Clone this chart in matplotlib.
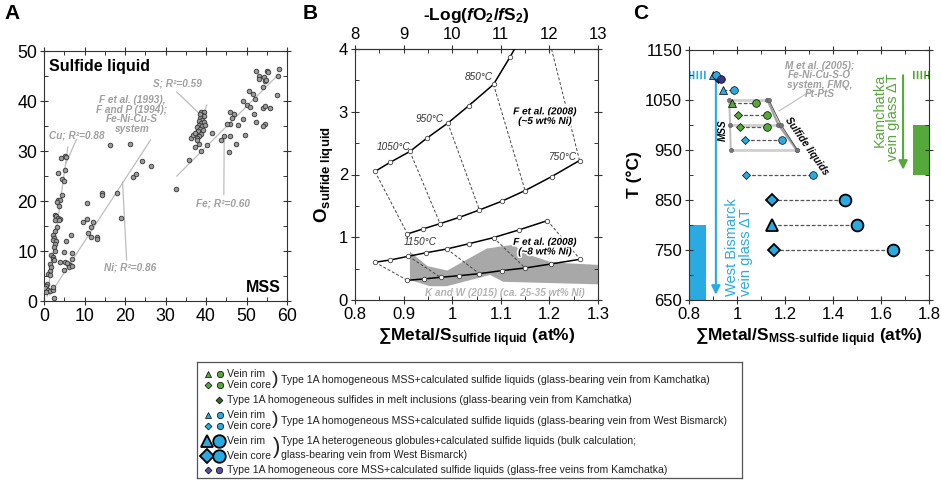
import numpy as np
import matplotlib
matplotlib.use('Agg')
import matplotlib.pyplot as plt
import matplotlib.patheffects as pe

plt.rcParams['font.family'] = ['Liberation Sans', 'DejaVu Sans']
plt.rcParams['mathtext.fontset'] = 'custom'
plt.rcParams['mathtext.rm'] = 'Liberation Sans'
plt.rcParams['mathtext.it'] = 'Liberation Sans:italic'
plt.rcParams['mathtext.bf'] = 'Liberation Sans:bold'
plt.rcParams['mathtext.bfit'] = 'Liberation Sans:bold:italic'

BLUE = '#29ABE2'
GREEN = '#56A83A'
DKGREEN = '#2F6A1E'
PURPLE = '#3B3487'
LTPURPLE = '#5A4FA3'
GRAYTXT = '#9E9E9E'
AXC = '#333333'

# ---------------- panel A : MSS vs sulfide liquid ----------------
cu_x = [4.3, 5.3, 5.4, 5.3, 3.5, 4.4, 5.0, 4.5, 3.5, 3.9, 3.2, 3.7, 2.6, 3.0, 3.5,
        3.9, 2.8, 3.6, 3.1, 2.8, 2.2, 2.4, 2.2, 2.9, 2.6, 2.4, 2.6, 1.8, 2.2, 2.1,
        2.5, 1.4, 1.8, 1.4, 1.0, 1.4, 0.8, 0.6, 0.3, 1.0, 1.6, 2.1, 2.2, 0.6, 2.4]
cu_y = [28.6, 29.0, 28.8, 26.2, 25.6, 24.4, 24.0, 21.3, 20.3, 20.2, 19.9, 19.0, 17.2, 17.0, 16.7,
        16.5, 16.2, 16.2, 14.8, 14.0, 13.2, 12.6, 12.3, 12.0, 11.5, 10.9, 10.1, 9.2, 8.9, 8.5,
        8.3, 7.5, 6.9, 6.1, 5.5, 5.2, 3.5, 3.0, 2.7, 2.3, 2.1, 2.3, 2.9, 1.9, 0.7]
ni_x = [4.9, 4.0, 5.1, 5.5, 6.6, 5.0, 5.9, 6.4, 6.2, 6.8, 5.6, 7.0, 6.8, 9.7, 10.6, 10.5,
        10.9, 11.5, 11.7, 12.0, 13.1, 13.1, 14.2, 14.4, 16.3, 18.1, 19.0, 21.2, 21.9, 22.7,
        24.3, 26.4]
ni_y = [9.9, 7.9, 7.9, 12.0, 13.2, 6.3, 7.5, 7.2, 6.8, 7.0, 7.6, 8.5, 9.7, 15.8, 16.5, 19.7,
        13.7, 14.8, 12.8, 15.8, 12.8, 12.4, 21.6, 21.2, 31.2, 21.6, 16.7, 31.4, 24.8, 25.4,
        28.1, 27.0]
fe_x = [32.6, 35.7, 38.8, 40.3, 41.5, 43.6, 44.5, 45.6, 46.0, 46.0, 46.8, 46.5, 46.0, 45.3,
        47.4, 47.8, 49.1, 49.1, 49.7, 50.1, 50.7, 50.9, 51.5, 51.9, 52.1, 52.3, 52.3, 53.2,
        53.0, 54.0, 54.2, 54.6, 55.0, 54.8, 55.4, 54.0, 54.6, 55.9, 54.5, 54.0, 57.5, 57.7, 58.1]
fe_y = [22.5, 28.2, 30.0, 31.2, 33.7, 32.2, 33.0, 29.8, 33.0, 37.8, 37.5, 36.7, 35.5, 35.4,
        31.4, 35.3, 36.5, 40.1, 33.2, 39.3, 42.1, 38.8, 41.5, 37.4, 40.5, 46.0, 35.8, 45.1,
        44.5, 42.8, 44.8, 44.1, 46.1, 44.3, 45.9, 38.7, 39.0, 38.6, 35.5, 35.1, 41.3, 45.1, 46.5]
s_x = [36.2, 37.2, 36.9, 37.7, 38.2, 38.8, 39.4, 38.9, 39.4, 38.5, 39.1, 38.2, 38.8, 38.3,
       38.9, 37.9, 38.5, 39.2, 38.1, 37.3, 38.7, 38.3, 37.7, 37.9, 39.5, 39.7, 38.4]
s_y = [32.7, 30.8, 33.2, 33.8, 31.5, 37.8, 37.8, 37.2, 37.0, 36.7, 36.3, 36.0, 35.6, 35.2,
       35.0, 34.8, 34.5, 34.2, 34.0, 33.6, 33.5, 33.0, 32.7, 32.2, 35.9, 35.2, 37.4]

cu_fit_x, cu_fit_y = [0.8, 5.9], [1.0, 30.8]
ni_fit_x, ni_fit_y = [1.4, 26.3], [1.2, 32.2]
fe_fit_x, fe_fit_y = [32.8, 57.9], [25.0, 45.3]

# ---------------- panel B : oxygen in sulfide liquid ----------------
f5_hi_x = [0.841, 0.873, 0.913, 0.948, 0.991, 1.034, 1.085, 1.119, 1.15, 1.18]
f5_hi_y = [2.048, 2.197, 2.367, 2.580, 2.819, 3.096, 3.436, 3.872, 4.30, 4.75]
f5_lo_x = [0.908, 0.939, 0.975, 1.015, 1.056, 1.102, 1.150, 1.205, 1.262]
f5_lo_y = [1.053, 1.130, 1.217, 1.318, 1.435, 1.574, 1.744, 1.968, 2.223]
f8_hi_x = [0.841, 0.873, 0.910, 0.947, 0.989, 1.035, 1.085, 1.137, 1.196]
f8_hi_y = [0.601, 0.638, 0.697, 0.754, 0.813, 0.898, 0.994, 1.116, 1.265]
f8_lo_x = [0.908, 0.941, 0.976, 1.015, 1.056, 1.102, 1.150, 1.203, 1.263]
f8_lo_y = [0.314, 0.335, 0.362, 0.388, 0.420, 0.468, 0.510, 0.574, 0.649]
f5_iso = [(0, 0), (2, 2), (4, 4), (6, 6), (9, 8)]
f8_iso = [(0, 0), (2, 2), (4, 4), (6, 6), (8, 8)]
kw_x = [0.913, 0.949, 0.990, 1.071, 1.126, 1.150, 1.201, 1.236, 1.300,
        1.300, 1.105, 1.078, 0.989, 0.954, 0.913]
kw_y = [0.77, 0.54, 0.47, 0.82, 0.88, 0.74, 0.61, 0.585, 0.56,
        0.25, 0.29, 0.40, 0.22, 0.22, 0.32]

# ---------------- panel C : temperature ----------------
kam_rim_T, kam_rim_mss, kam_rim_liq = [1045], [0.980], [1.079]
kam_core_T, kam_core_mss, kam_core_liq = [1021, 997], [1.003, 1.013], [1.126, 1.126]
wb_rim_T, wb_rim_mss, wb_rim_liq = [1101, 1071], [0.901, 0.943], [0.912, 0.989]
wb_core_T, wb_core_mss, wb_core_liq = [971, 900], [1.033, 1.037], [1.189, 1.318]
glob_rim_T, glob_rim_mss, glob_rim_liq = [800], [1.144], [1.498]
glob_core_T, glob_core_mss, glob_core_liq = [850, 750], [1.144, 1.155], [1.449, 1.650]
free_T, free_mss, free_liq = [1093], [0.920], [0.932]
m05_T = [1051, 1001, 950]
m05_mss = [0.968, 0.971, 0.974]
m05_liq = [1.126, 1.172, 1.249]
m05_liq2 = [1.132, 1.183, 1.252]
wb_glass_x, wb_glass_T = [0.8, 0.869], [650, 800]
kam_glass_x, kam_glass_T = [1.733, 1.8], [900, 1000]
wb_start_x, kam_start_x = [0.8, 0.872], [1.733, 1.8]
glass_start_T = 1100

fig = plt.figure(figsize=(9.41, 4.83), dpi=100)


def style_axes(ax, size=12):
    for sp in ax.spines.values():
        sp.set_color(AXC)
        sp.set_linewidth(0.8)
    ax.minorticks_on()
    ax.tick_params(which='major', direction='inout', length=6, width=0.8,
                   top=True, right=True, labelsize=size, color=AXC, pad=2)
    ax.tick_params(which='minor', direction='in', length=3, width=0.7,
                   top=True, right=True, color=AXC)


# ===== A =====
axA = fig.add_axes([44 / 941, 182 / 483, 243 / 941, 250 / 483])
for fx, fy in [(cu_fit_x, cu_fit_y), (ni_fit_x, ni_fit_y), (fe_fit_x, fe_fit_y)]:
    axA.plot(fx, fy, color='#BDBDBD', lw=0.9, zorder=1)
for px, py in [(cu_x, cu_y), (ni_x, ni_y), (fe_x, fe_y), (s_x, s_y)]:
    axA.scatter(px, py, s=11, facecolor='#9A9A9A', edgecolor='#333333', linewidth=0.6, zorder=3)
lead = dict(color='#BDBDBD', lw=0.9, zorder=1)
axA.plot([8.0, 5.4], [32.3, 27.5], **lead)
axA.plot([20.4, 19.4], [8.2, 23.8], **lead)
axA.plot([32.8, 38.3], [41.8, 37.5], **lead)
axA.plot([39.5, 40.2], [37.6, 39.2], **lead)
axA.plot([44.4, 44.5], [21.3, 32.7], **lead)
ann = dict(color=GRAYTXT, fontsize=7.2, fontweight='bold', style='italic', ha='center', va='center')
axA.text(8.1, 33.2, 'Cu; R²=0.88', **ann)
axA.text(21.7, 37.3, 'F et al. (1993),\nF and P (1994);\nFe-Ni-Cu-S\nsystem', linespacing=0.95, **ann)
axA.text(32.9, 43.5, 'S; R²=0.59', **ann)
axA.text(44.3, 19.6, 'Fe; R²=0.60', **ann)
axA.text(21.2, 6.7, 'Ni; R²=0.86', **ann)
axA.text(1.2, 46.8, 'Sulfide liquid', fontsize=11.5, fontweight='bold', va='center')
axA.text(58.5, 2.7, 'MSS', fontsize=11.5, fontweight='bold', va='center', ha='right')
axA.set_xlim(0, 60)
axA.set_ylim(0, 50)
axA.set_xticks(np.arange(0, 61, 10))
axA.set_yticks(np.arange(0, 51, 10))
style_axes(axA, 12.8)
axA.xaxis.set_minor_locator(plt.MultipleLocator(5))
axA.yaxis.set_minor_locator(plt.MultipleLocator(5))

# ===== B =====
axB = fig.add_axes([355 / 941, 183 / 483, 243 / 941, 251 / 483])
axB.fill(kw_x, kw_y, color='#A8A8A8', lw=0, zorder=1)
for hx, hy, lx, ly, iso in [(f5_hi_x, f5_hi_y, f5_lo_x, f5_lo_y, f5_iso),
                            (f8_hi_x, f8_hi_y, f8_lo_x, f8_lo_y, f8_iso)]:
    for i, j in iso:
        axB.plot([hx[i], lx[j]], [hy[i], ly[j]], color='#444444', lw=0.7,
                 ls=(0, (3, 2)), zorder=2)
    for cx, cy in [(hx, hy), (lx, ly)]:
        axB.plot(cx, cy, color='black', lw=1.1, zorder=3)
        axB.plot(cx, cy, ls='none', marker='o', ms=3.2, mfc='white', mec='#444444',
                 mew=0.6, zorder=4)
tl = dict(fontsize=7.2, style='italic', color='#333333', ha='center', va='center', zorder=5)
axB.text(0.879, 2.445, '1050°C', **tl)
axB.text(0.954, 2.887, '950°C', **tl)
axB.text(1.054, 3.55, '850°C', **tl)
axB.text(1.229, 2.286, '750°C', **tl)
axB.text(0.934, 0.93, '1150°C', **tl)
halo = [pe.withStroke(linewidth=2.5, foreground='white')]
axB.text(1.191, 2.93, 'F et al. (2008)\n(~5 wt% Ni)', fontsize=7.2, fontweight='bold',
         style='italic', ha='center', va='center', linespacing=0.95, path_effects=halo, zorder=6)
axB.text(1.191, 0.85, 'F et al. (2008)\n(~8 wt% Ni)', fontsize=7.2, fontweight='bold',
         style='italic', ha='center', va='center', linespacing=0.95, path_effects=halo, zorder=6)
axB.text(1.109, 0.107, 'K and W (2015) (ca. 25-35 wt% Ni)', fontsize=7.2, fontweight='bold',
         style='italic', color='#B4B4B4', ha='center', va='center', zorder=6)
axB.set_xlim(0.8, 1.3)
axB.set_ylim(0, 4)
axB.set_xticks([0.8, 0.9, 1.0, 1.1, 1.2, 1.3])
axB.set_xticklabels(['0.8', '0.9', '1', '1.1', '1.2', '1.3'])
axB.set_yticks([0, 1, 2, 3, 4])
style_axes(axB)
axB.tick_params(top=False, which='both')
axB.xaxis.set_minor_locator(plt.MultipleLocator(0.05))
axB.yaxis.set_minor_locator(plt.MultipleLocator(0.5))
axB.set_xlabel(r'∑Metal/S$_{\mathbf{sulfide\ liquid}}$ (at%)', fontsize=12.5,
               fontweight='bold', labelpad=3)
axB.set_ylabel(r'$\mathbf{O}_{\mathbf{sulfide\ liquid}}$', fontsize=13.5, labelpad=2)
top = axB.secondary_xaxis('top', functions=(lambda x: (x - 0.8) * 10 + 8,
                                            lambda t: (t - 8) / 10 + 0.8))
top.set_xticks([8, 9, 10, 11, 12, 13])
top.xaxis.set_minor_locator(plt.MultipleLocator(0.5))
top.tick_params(which='major', direction='inout', length=6, width=0.8, labelsize=12,
                color=AXC, pad=2)
top.tick_params(which='minor', direction='in', length=3, width=0.7, color=AXC)
top.spines['top'].set_color(AXC)
top.set_xlabel(r'-Log($\mathbfit{f}\mathbf{O}_\mathbf{2}$/$\mathbfit{f}\mathbf{S}_\mathbf{2}$)',
               fontsize=12.5, fontweight='bold', labelpad=5)

# ===== C =====
axC = fig.add_axes([689 / 941, 183 / 483, 240 / 941, 250 / 483])
axC.fill_between(wb_glass_x, wb_glass_T[0], wb_glass_T[1], color=BLUE, lw=0, zorder=1)
axC.fill_between(kam_glass_x, kam_glass_T[0], kam_glass_T[1], color=GREEN, lw=0, zorder=1)
axC.plot(wb_start_x, [glass_start_T] * 2, color=BLUE, lw=6, ls=(0, (0.2, 0.25)),
         dash_capstyle='butt', zorder=1)
axC.plot(kam_start_x, [glass_start_T] * 2, color=GREEN, lw=6, ls=(0, (0.2, 0.25)),
         dash_capstyle='butt', zorder=1)
axC.annotate('', xy=(0.912, 655), xytext=(0.912, 1097),
             arrowprops=dict(arrowstyle='-|>', color=BLUE, lw=1.5, mutation_scale=13), zorder=2)
axC.annotate('', xy=(1.692, 905), xytext=(1.692, 1105),
             arrowprops=dict(arrowstyle='-|>', color=GREEN, lw=1.5, mutation_scale=13), zorder=2)
axC.text(1.008, 657, 'West Bismarck\nvein glass ΔT', rotation=90, color=BLUE, fontsize=10.5,
         ha='center', va='bottom', multialignment='left', linespacing=0.95)
axC.text(1.622, 1103, 'Kamchatka\nvein glass ΔT', rotation=90, color=GREEN, fontsize=10.5,
         ha='center', va='top', multialignment='right', linespacing=0.95)

# Mungall et al. field
axC.plot(m05_mss, m05_T, color='#BDBDBD', lw=1.4, zorder=2)
axC.plot(m05_liq, m05_T, color='#A0A0A0', lw=1.6, zorder=2)
axC.plot(m05_liq2, m05_T, color='#555555', lw=0.7, zorder=2)
for t, a, b in zip(m05_T, m05_mss, m05_liq2):
    axC.plot([a, b], [t, t], color='#CFCFCF', lw=2.0, zorder=2)
axC.plot(m05_mss + m05_liq + m05_liq2, m05_T * 3, ls='none', marker='o', ms=3,
         mfc='#777777', mec='#555555', mew=0.4, zorder=3)
axC.plot([1.175, 1.30], [1028, 1066], color='#BDBDBD', lw=0.8, zorder=2)
axC.text(1.345, 1090, 'M et al. (2005);\nFe-Ni-Cu-S-O\nsystem, FMQ,\nPt-PtS', color=GRAYTXT,
         fontsize=7.2, fontweight='bold', style='italic', ha='center', va='center',
         linespacing=0.9)
axC.text(0.943, 990, 'MSS', rotation=90, fontsize=7.2, fontweight='bold', style='italic',
         ha='center', va='center')
axC.text(1.292, 957, 'Sulfide liquids', rotation=-55, fontsize=7.2, fontweight='bold',
         style='italic', ha='center', va='center', rotation_mode='anchor')

groups = [
    (wb_rim_T, wb_rim_mss, wb_rim_liq, BLUE, '^', 5.5, 5.5),
    (kam_rim_T, kam_rim_mss, kam_rim_liq, GREEN, '^', 5.5, 5.5),
    (kam_core_T, kam_core_mss, kam_core_liq, GREEN, 'D', 4.2, 5.5),
    (wb_core_T, wb_core_mss, wb_core_liq, BLUE, 'D', 4.2, 5.5),
    (glob_rim_T, glob_rim_mss, glob_rim_liq, BLUE, '^', 8.5, 8.5),
    (glob_core_T, glob_core_mss, glob_core_liq, BLUE, 'D', 6.5, 8.5),
    (free_T, free_mss, free_liq, PURPLE, 'D', 4.2, 5.5),
]
for T, xm, xl, col, mk, ms1, ms2 in groups:
    for t, a, b in zip(T, xm, xl):
        axC.plot([a, b], [t, t], color='#555555', lw=0.9, ls=(0, (3, 1.5)), zorder=3)
    big = ms2 > 7
    axC.plot(xm, T, ls='none', marker=mk, ms=ms1, mfc=col, mec='black',
             mew=1.3 if big else 0.5, zorder=4)
    axC.plot(xl, T, ls='none', marker='o', ms=ms2, mfc=col, mec='black',
             mew=1.3 if big else 0.5, zorder=5)

axC.set_xlim(0.8, 1.8)
axC.set_ylim(650, 1150)
axC.set_xticks([0.8, 1.0, 1.2, 1.4, 1.6, 1.8])
axC.set_xticklabels(['0.8', '1', '1.2', '1.4', '1.6', '1.8'])
axC.set_yticks([650, 750, 850, 950, 1050, 1150])
style_axes(axC)
axC.xaxis.set_minor_locator(plt.MultipleLocator(0.1))
axC.yaxis.set_minor_locator(plt.MultipleLocator(50))
axC.set_xlabel(r'∑Metal/S$_{\mathbf{MSS}\text{-}\mathbf{sulfide\ liquid}}$ (at%)', fontsize=12.5,
               fontweight='bold', labelpad=3)
axC.set_ylabel('T (°C)', fontsize=12.5, fontweight='bold', labelpad=2)

# panel letters
fig.text(4 / 941, 1 - 4 / 483, 'A', fontsize=15, fontweight='bold', va='top')
fig.text(303 / 941, 1 - 4 / 483, 'B', fontsize=15, fontweight='bold', va='top')
fig.text(633 / 941, 1 - 4 / 483, 'C', fontsize=15, fontweight='bold', va='top')

# ===== legend box =====
axL = fig.add_axes([197 / 941, 5 / 483, 545 / 941, 116 / 483])
axL.set_xlim(197, 742)
axL.set_ylim(478, 362)
axL.set_xticks([])
axL.set_yticks([])
for sp in axL.spines.values():
    sp.set_color('#555555')
    sp.set_linewidth(0.9)


def lm(x, y, mk, col, ms, mew=0.5):
    axL.plot([x], [y], ls='none', marker=mk, ms=ms, mfc=col, mec='black', mew=mew)


lt = dict(fontsize=7.55, va='center', color='#222222')
lm(208, 374, '^', GREEN, 4.6)
lm(220, 374, 'o', GREEN, 4.6)
lm(208, 385, 'D', GREEN, 3.5)
lm(220, 385, 'o', GREEN, 4.6)
axL.text(227, 374, 'Vein rim', **lt)
axL.text(227, 385, 'Vein core', **lt)
axL.text(272, 379, ')', fontsize=14, va='center', color='#222222')
axL.text(281, 380, 'Type 1A homogeneous MSS+calculated sulfide liquids (glass-bearing vein from Kamchatka)', **lt)
lm(219, 400, 'D', DKGREEN, 3.5)
axL.text(227, 400, 'Type 1A homogeneous sulfides in melt inclusions (glass-bearing vein from Kamchatka)', **lt)
lm(208, 415, '^', BLUE, 4.6)
lm(220, 415, 'o', BLUE, 4.6)
lm(208, 426, 'D', BLUE, 3.5)
lm(220, 426, 'o', BLUE, 4.6)
axL.text(227, 415, 'Vein rim', **lt)
axL.text(227, 426, 'Vein core', **lt)
axL.text(272, 420, ')', fontsize=14, va='center', color='#222222')
axL.text(281, 421, 'Type 1A homogeneous MSS+calculated sulfide liquids (glass-bearing vein from West Bismarck)', **lt)
lm(207, 441, '^', BLUE, 9, 1.3)
lm(219, 441, 'o', BLUE, 9, 1.3)
lm(207, 456, 'D', BLUE, 7, 1.3)
lm(219, 456, 'o', BLUE, 9, 1.3)
axL.text(227, 441, 'Vein rim', **lt)
axL.text(227, 456, 'Vein core', **lt)
axL.text(273, 448, ')', fontsize=16, va='center', color='#222222')
axL.text(281, 441, 'Type 1A heterogeneous globules+calculated sulfide liquids (bulk calculation;', **lt)
axL.text(281, 455, 'glass-bearing vein from West Bismarck)', **lt)
lm(208, 470, 'D', LTPURPLE, 3.5)
lm(219, 470, 'o', LTPURPLE, 4.6)
axL.text(227, 470, 'Type 1A homogeneous core MSS+calculated sulfide liquids (glass-free veins from Kamchatka)', **lt)

fig.savefig('out.png', dpi=100)
